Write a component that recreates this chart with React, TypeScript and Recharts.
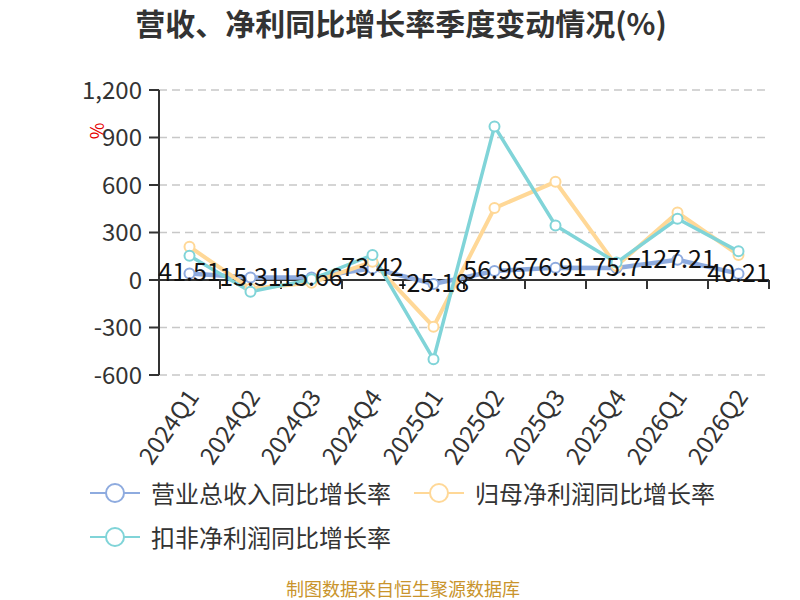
import React from 'react'
import {
  CartesianGrid,
  LabelList,
  Line,
  LineChart,
  ReferenceLine,
  XAxis,
  YAxis,
} from 'recharts'

const quarters = [
  '2024Q1', '2024Q2', '2024Q3', '2024Q4', '2025Q1',
  '2025Q2', '2025Q3', '2025Q4', '2026Q1', '2026Q2',
]
const revenueGrowth = [41.51, 15.31, 15.66, 73.42, -25.18, 56.96, 76.91, 75.7, 127.21, 40.21]
const netProfitGrowth = [210, -55, -17, 115, -295, 454, 620, 89, 426, 158]
const deductedGrowth = [153, -74, 4, 158, -500, 970, 344, 110, 387, 181]
const yTicks = [-600, -300, 0, 300, 600, 900, 1200]

const FONT = '"Noto Sans CJK SC", "Microsoft YaHei", sans-serif'

const SERIES = [
  { key: 'revenue', name: '营业总收入同比增长率', color: '#8eabdf', width: 4.5 },
  { key: 'netProfit', name: '归母净利润同比增长率', color: '#ffd897', width: 4 },
  { key: 'deducted', name: '扣非净利润同比增长率', color: '#80d4d8', width: 3.5 },
]

const CHART_W = 800
const Y_AXIS_W = 159
const RIGHT_GAP = 31
// half a category band, so points sit in the middle of each band
const HALF_BAND = (CHART_W - Y_AXIS_W - RIGHT_GAP) / quarters.length / 2

const data = quarters.map((q, i) => ({
  quarter: q,
  revenue: revenueGrowth[i],
  netProfit: netProfitGrowth[i],
  deducted: deductedGrowth[i],
}))

// zero line acting as the category axis, with ticks on band edges
function ZeroAxis(props: any) {
  const { x1, y1, x2 } = props
  const span = x2 - x1
  // reference line may or may not include the axis padding
  const padded = span < quarters.length * HALF_BAND * 2 - 1
  const left = padded ? x1 - HALF_BAND : x1
  const right = padded ? x2 + HALF_BAND : x2
  const step = (right - left) / quarters.length
  return (
    <g>
      <line x1={left} y1={y1} x2={right} y2={y1} stroke="#333" strokeWidth={2} />
      {quarters.map((q, i) => {
        const tx = left + step * (i + 1)
        return <line key={q} x1={tx} y1={y1} x2={tx} y2={y1 + 9} stroke="#333" strokeWidth={2} />
      })}
    </g>
  )
}

function QuarterTick({ x, y, payload }: any) {
  const px = x + 2
  const py = y + 8
  return (
    <text
      x={px}
      y={py}
      transform={`rotate(-55 ${px} ${py})`}
      textAnchor="end"
      dominantBaseline="central"
      fontSize={24}
      fill="#333"
      fontFamily={FONT}
    >
      {payload.value}
    </text>
  )
}

function ValueLabel({ x, y, value }: any) {
  return (
    <text
      x={x}
      y={y - 3}
      textAnchor="middle"
      dominantBaseline="central"
      fontSize={25}
      fill="#111"
      fontFamily={FONT}
    >
      {value}
    </text>
  )
}

function LegendIcon({ color }: { color: string }) {
  return (
    <svg width={50} height={22} style={{ display: 'block' }}>
      <line x1={0} y1={11} x2={50} y2={11} stroke={color} strokeWidth={2} />
      <circle cx={25} cy={11} r={9} fill="#fff" stroke={color} strokeWidth={2} />
    </svg>
  )
}

const legendPos = [
  { left: 90, top: 480 },
  { left: 414, top: 480 },
  { left: 90, top: 524 },
]

export default function App() {
  return (
    <div
      style={{
        position: 'absolute',
        left: 0,
        top: 0,
        width: 800,
        height: 600,
        background: '#fff',
        fontFamily: FONT,
        overflow: 'hidden',
      }}
    >
      <div
        style={{
          position: 'absolute',
          top: 2,
          left: 2,
          width: 798,
          textAlign: 'center',
          fontSize: 30,
          fontWeight: 'bold',
          color: '#333',
          lineHeight: '40px',
        }}
      >
        营收、净利同比增长率季度变动情况(%)
      </div>
      <div
        style={{
          position: 'absolute',
          left: 88,
          top: 121,
          fontSize: 18,
          color: '#e60000',
          transform: 'rotate(-90deg)',
          lineHeight: '20px',
        }}
      >
        %
      </div>
      <LineChart
        width={CHART_W}
        height={600}
        data={data}
        margin={{ top: 90, right: RIGHT_GAP, left: 0, bottom: 125 }}
      >
        <CartesianGrid
          vertical={false}
          stroke="#c8c8c8"
          strokeDasharray="8 5"
          strokeWidth={1.5}
        />
        <XAxis
          dataKey="quarter"
          height={100}
          axisLine={false}
          tickLine={false}
          interval={0}
          padding={{ left: HALF_BAND, right: HALF_BAND }}
          tick={<QuarterTick />}
        />
        <YAxis
          width={Y_AXIS_W}
          domain={[-600, 1200]}
          ticks={yTicks}
          interval={0}
          tickFormatter={(v: number) => v.toLocaleString('en-US')}
          tick={{ fontSize: 24, fill: '#333', fontFamily: FONT }}
          tickSize={10}
          tickMargin={7}
          axisLine={{ stroke: '#333', strokeWidth: 2 }}
          tickLine={{ stroke: '#333', strokeWidth: 2 }}
        />
        <ReferenceLine y={0} shape={<ZeroAxis />} />
        {SERIES.map((s) => (
          <Line
            key={s.key}
            type="linear"
            dataKey={s.key}
            name={s.name}
            stroke={s.color}
            strokeWidth={s.width}
            dot={{ r: 5, fill: '#fff', stroke: s.color, strokeWidth: 2 }}
            activeDot={false}
            isAnimationActive={false}
          />
        ))}
        <Line
          type="linear"
          dataKey="revenue"
          stroke="none"
          dot={false}
          activeDot={false}
          legendType="none"
          isAnimationActive={false}
        >
          <LabelList dataKey="revenue" content={<ValueLabel />} />
        </Line>
      </LineChart>
      {SERIES.map((s, i) => (
        <div
          key={s.key}
          style={{
            position: 'absolute',
            left: legendPos[i].left,
            top: legendPos[i].top,
            display: 'flex',
            alignItems: 'center',
            fontSize: 24,
            color: '#333',
            lineHeight: '26px',
          }}
        >
          <LegendIcon color={s.color} />
          <span style={{ marginLeft: 11 }}>{s.name}</span>
        </div>
      ))}
      <div
        style={{
          position: 'absolute',
          top: 578,
          left: 6,
          width: 794,
          textAlign: 'center',
          fontSize: 18,
          color: '#c9942c',
          lineHeight: '20px',
        }}
      >
        制图数据来自恒生聚源数据库
      </div>
    </div>
  )
}
